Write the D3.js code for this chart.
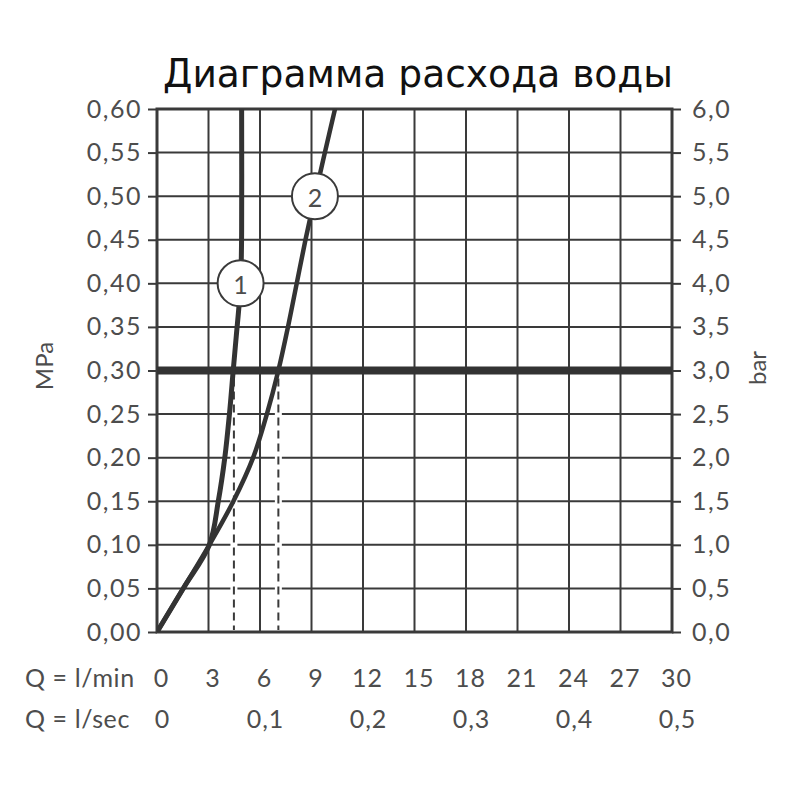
<!DOCTYPE html>
<html>
<head>
<meta charset="utf-8">
<script src="https://cdn.jsdelivr.net/npm/d3@7"></script>
<style>
  html, body { margin: 0; padding: 0; background: #fff; }
  svg { display: block; }
</style>
</head>
<body>
<svg id="chart" width="800" height="800"></svg>
<script>
// ---------- data ----------
const titleText = "Диаграмма расхода воды";
const pressureTicks = [0, 0.05, 0.10, 0.15, 0.20, 0.25, 0.30, 0.35, 0.40, 0.45, 0.50, 0.55, 0.60];
const mpaLabels = ["0,00","0,05","0,10","0,15","0,20","0,25","0,30","0,35","0,40","0,45","0,50","0,55","0,60"];
const barLabels = ["0,0","0,5","1,0","1,5","2,0","2,5","3,0","3,5","4,0","4,5","5,0","5,5","6,0"];
const flowMinTicks = [0, 3, 6, 9, 12, 15, 18, 21, 24, 27, 30];
const flowMinLabels = ["0","3","6","9","12","15","18","21","24","27","30"];
const flowSecTicks = [0, 6, 12, 18, 24, 30];          // positions in l/min
const flowSecLabels = ["0","0,1","0,2","0,3","0,4","0,5"];
const yAxisLeftTitle = "MPa";
const yAxisRightTitle = "bar";
const rowLabelMin = "Q = l/min";
const rowLabelSec = "Q = l/sec";

// curve 1: [l/min, MPa]
const curve1 = [[0,0],[1.53,0.05],[3.05,0.10],[3.57,0.15],[3.95,0.20],[4.22,0.25],[4.44,0.30],[4.62,0.34],[4.80,0.38],[4.90,0.42],[4.93,0.46],[4.93,0.60]];
// curve 2
const curve2 = [[0,0],[1.53,0.05],[3.05,0.10],[4.45,0.15],[5.60,0.20],[6.40,0.25],[7.07,0.30],[7.63,0.35],[8.14,0.40],[8.65,0.45],[9.20,0.50],[9.78,0.55],[10.37,0.60]];
const refPressure = 0.30;
const refFlows = [4.48, 7.07];
const markerLabels = ["1", "2"];
const markerFlows = [4.87, 9.20];
const markerPressures = [0.40, 0.50];

// ---------- layout ----------
const svg = d3.select("#chart");
const pL = 157, pR = 672, pT = 109, pB = 632;
const x = d3.scaleLinear().domain([0, 30]).range([pL, pR]);
const y = d3.scaleLinear().domain([0, 0.6]).range([pB, pT]);
const ink = "#3a3a3a";
const labelInk = "#4d4d4d";
const labelFont = "Lato, 'Open Sans', sans-serif";

// title
svg.append("text")
  .attr("x", 163).attr("y", 87)
  .attr("textLength", 510).attr("lengthAdjust", "spacingAndGlyphs")
  .style("font-family", "'DejaVu Sans', sans-serif")
  .style("font-size", "39px")
  .attr("fill", "#111")
  .text(titleText);

// grid: horizontal
svg.append("g").selectAll("line").data(pressureTicks).join("line")
  .attr("x1", pL).attr("x2", pR)
  .attr("y1", d => y(d)).attr("y2", d => y(d))
  .attr("stroke", ink).attr("stroke-width", 2);
// grid: vertical
svg.append("g").selectAll("line").data(flowMinTicks).join("line")
  .attr("x1", d => x(d)).attr("x2", d => x(d))
  .attr("y1", pT).attr("y2", pB)
  .attr("stroke", ink).attr("stroke-width", 2);

// frame
svg.append("rect")
  .attr("x", pL).attr("y", pT)
  .attr("width", pR - pL).attr("height", pB - pT)
  .attr("fill", "none").attr("stroke", ink).attr("stroke-width", 3);

// left axis
const axL = d3.axisLeft(y).tickValues(pressureTicks).tickSize(9).tickPadding(6)
  .tickFormat((d, i) => mpaLabels[i]);
const gL = svg.append("g").attr("transform", `translate(${pL},0)`).call(axL);
gL.select(".domain").remove();
gL.selectAll(".tick line").attr("stroke", ink).attr("stroke-width", 2);
gL.selectAll(".tick text")
  .attr("fill", labelInk)
  .style("font-family", labelFont).style("font-size", "25px")
  .style("letter-spacing", "1.5px");

// right axis
const axR = d3.axisRight(y).tickValues(pressureTicks).tickSize(9).tickPadding(11)
  .tickFormat((d, i) => barLabels[i]);
const gR = svg.append("g").attr("transform", `translate(${pR},0)`).call(axR);
gR.select(".domain").remove();
gR.selectAll(".tick line").attr("stroke", ink).attr("stroke-width", 2);
gR.selectAll(".tick text")
  .attr("fill", labelInk)
  .style("font-family", labelFont).style("font-size", "25px")
  .style("letter-spacing", "1.5px");

// axis titles
svg.append("text")
  .attr("transform", `translate(53,366) rotate(-90)`)
  .attr("text-anchor", "middle")
  .attr("fill", labelInk)
  .style("font-family", labelFont).style("font-size", "24px")
  .text(yAxisLeftTitle);
svg.append("text")
  .attr("transform", `translate(766,368) rotate(-90)`)
  .attr("text-anchor", "middle")
  .attr("fill", labelInk)
  .style("font-family", labelFont).style("font-size", "24px")
  .text(yAxisRightTitle);

// bottom rows
const axB1 = d3.axisBottom(x).tickValues(flowMinTicks).tickSize(0).tickPadding(37)
  .tickFormat((d, i) => flowMinLabels[i]);
const gB1 = svg.append("g").attr("transform", `translate(4,${pB})`).call(axB1);
gB1.select(".domain").remove();
gB1.selectAll(".tick text")
  .attr("fill", labelInk)
  .style("font-family", labelFont).style("font-size", "25px")
  .style("letter-spacing", "1px");

const axB2 = d3.axisBottom(x).tickValues(flowSecTicks).tickSize(0).tickPadding(78)
  .tickFormat((d, i) => flowSecLabels[i]);
const gB2 = svg.append("g").attr("transform", `translate(5,${pB})`).call(axB2);
gB2.select(".domain").remove();
gB2.selectAll(".tick text")
  .attr("fill", labelInk)
  .style("font-family", labelFont).style("font-size", "25px")
  .style("letter-spacing", "1px");

svg.append("text").attr("x", 25).attr("y", 687)
  .attr("fill", labelInk)
  .style("font-family", labelFont).style("font-size", "25px")
  .style("letter-spacing", "0.6px")
  .text(rowLabelMin);
svg.append("text").attr("x", 25).attr("y", 728)
  .attr("fill", labelInk)
  .style("font-family", labelFont).style("font-size", "25px")
  .style("letter-spacing", "0.6px")
  .text(rowLabelSec);

// reference dashed drop lines
const gD = svg.append("g");
refFlows.forEach(q => {
  gD.append("line")
    .attr("x1", x(q)).attr("x2", x(q))
    .attr("y1", y(refPressure) + 6).attr("y2", pB - 2)
    .attr("stroke", "#fff").attr("stroke-width", 7);
  gD.append("line")
    .attr("x1", x(q)).attr("x2", x(q))
    .attr("y1", y(refPressure) + 8).attr("y2", pB - 2)
    .attr("stroke", ink).attr("stroke-width", 2)
    .attr("stroke-dasharray", "8,5");
});

// thick reference line at 0.30 MPa
svg.append("line")
  .attr("x1", pL).attr("x2", pR)
  .attr("y1", y(refPressure)).attr("y2", y(refPressure))
  .attr("stroke", "#333").attr("stroke-width", 8);

// curves
svg.append("clipPath").attr("id", "plotClip")
  .append("rect").attr("x", pL).attr("y", pT).attr("width", pR - pL).attr("height", pB - pT);
const line = d3.line().x(d => x(d[0])).y(d => y(d[1])).curve(d3.curveCatmullRom.alpha(0.5));
const gC = svg.append("g").attr("clip-path", "url(#plotClip)");
gC.append("path").attr("d", line(curve2))
  .attr("fill", "none").attr("stroke", "#333").attr("stroke-width", 4.5).attr("stroke-linecap", "round");
gC.append("path").attr("d", line(curve1))
  .attr("fill", "none").attr("stroke", "#333").attr("stroke-width", 5).attr("stroke-linecap", "round");

// markers
const gM = svg.append("g");
markerLabels.forEach((lab, i) => {
  gM.append("circle")
    .attr("cx", x(markerFlows[i])).attr("cy", y(markerPressures[i]))
    .attr("r", 23)
    .attr("fill", "#fff").attr("stroke", ink).attr("stroke-width", 2);
  gM.append("text")
    .attr("x", x(markerFlows[i])).attr("y", y(markerPressures[i]) + 1)
    .attr("text-anchor", "middle").attr("dominant-baseline", "central")
    .attr("fill", labelInk)
    .style("font-family", labelFont).style("font-size", "25px")
    .text(lab);
});
</script>
</body>
</html>
